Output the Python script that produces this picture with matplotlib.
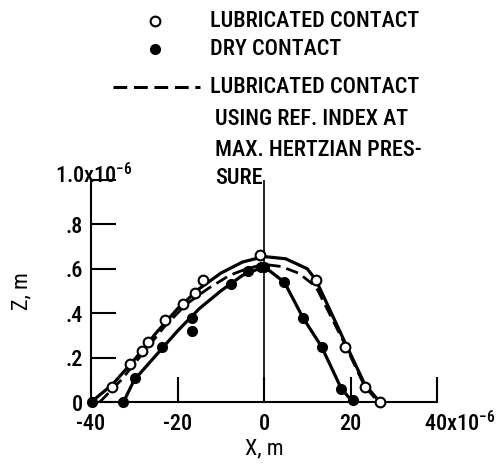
import matplotlib.pyplot as plt
from matplotlib.lines import Line2D

# x and z in units of 1e-6 m
lub_x = [-35.2, -30.9, -28.2, -26.9, -22.9, -18.7, -16.0, -14.1, -0.9, 12.1, 18.7, 23.3, 26.8]
lub_z = [0.07, 0.17, 0.23, 0.27, 0.37, 0.44, 0.49, 0.55, 0.66, 0.55, 0.25, 0.066, 0.0]

dry_x = [-39.7, -32.5, -29.8, -23.6, -16.6, -16.6, -7.7, -3.8, -0.7, 0.1, 4.7, 9.0, 13.3, 17.9, 20.6]
dry_z = [0.0, 0.0, 0.11, 0.25, 0.32, 0.38, 0.53, 0.59, 0.61, 0.61, 0.54, 0.38, 0.25, 0.06, 0.01]

lub_fit_x = [-40, -35, -30, -25, -20, -15, -10, -5, 0, 5, 10, 12, 18.7, 23.3, 26.8]
lub_fit_z = [0, 0.08, 0.19, 0.31, 0.42, 0.51, 0.58, 0.63, 0.655, 0.645, 0.6, 0.55, 0.27, 0.08, 0]

dry_fit_x = [-32.5, -30, -25, -20, -15, -10, -5, 0, 4.7, 9.0, 13.3, 17.9, 20.6]
dry_fit_z = [0, 0.1, 0.21, 0.32, 0.42, 0.5, 0.57, 0.61, 0.54, 0.38, 0.25, 0.06, 0]

ref_x = [-38, -33, -28, -23, -18, -13, -8, -4, 0, 4, 8, 12, 18.7, 23.3, 26.5]
ref_z = [0, 0.1, 0.22, 0.34, 0.44, 0.51, 0.57, 0.6, 0.62, 0.61, 0.58, 0.52, 0.26, 0.07, 0]

x_ticks = [-40, -20, 0, 20, 40]
x_labels = ['-40', '-20', '0', '20', '']
y_ticks = [0, 0.2, 0.4, 0.6, 0.8, 1.0]
y_labels = ['0', '.2', '.4', '.6', '.8', '']

plt.rcParams['font.family'] = ['Roboto Condensed', 'DejaVu Sans']
plt.rcParams['font.weight'] = 'medium'
plt.rcParams['mathtext.fontset'] = 'custom'
plt.rcParams['mathtext.rm'] = 'Roboto Condensed:medium'
plt.rcParams['mathtext.it'] = 'Roboto Condensed:medium'

dash = (0, (4.5, 2.2))

fig = plt.figure(figsize=(5, 4.72), dpi=100)
ax = fig.add_axes([0.182, 0.148, 0.692, 0.471])

ax.plot(lub_fit_x, lub_fit_z, color='black', lw=2.3, clip_on=False)
ax.plot(dry_fit_x, dry_fit_z, color='black', lw=2.3, clip_on=False)
ax.plot(ref_x, ref_z, color='black', lw=2.0, ls=dash, clip_on=False)
ax.plot(dry_x, dry_z, 'o', color='black', ms=7, clip_on=False, zorder=5)
ax.plot(lub_x, lub_z, 'o', mfc='white', mec='black', mew=1.5, ms=7, clip_on=False, zorder=5)
ax.axvline(0, color='black', lw=1.2)

ax.set_xlim(-40, 40)
ax.set_ylim(0, 1.0)
ax.set_xticks(x_ticks)
ax.set_xticklabels(x_labels)
ax.set_yticks(y_ticks)
ax.set_yticklabels(y_labels)
ax.tick_params(direction='in', length=18, width=1.5, labelsize=16)
ax.tick_params(axis='y', pad=6)
ax.tick_params(axis='x', pad=8)
for s in ['top', 'right']:
    ax.spines[s].set_visible(False)
for s in ['left', 'bottom']:
    ax.spines[s].set_linewidth(1.5)

ax.set_xlabel('X, m', fontsize=16, labelpad=2)
ax.set_ylabel('Z, m', fontsize=16, labelpad=24)
ax.text(-48.3, 1.02, '1.0x10$^{-6}$', fontsize=16, ha='left', va='center')
ax.text(37.0, -0.095, '40x10$^{-6}$', fontsize=16, ha='left', va='center')

# legend block above the plot
W, H = 500, 472
fig.add_artist(Line2D([155 / W], [1 - 21 / H], marker='o', mfc='white', mec='black',
                      mew=1.5, ms=7, transform=fig.transFigure))
fig.add_artist(Line2D([155 / W], [1 - 49 / H], marker='o', color='black', ms=7,
                      transform=fig.transFigure))
fig.add_artist(Line2D([113 / W, 200 / W], [1 - 87 / H, 1 - 87 / H], color='black',
                      lw=2.2, ls=dash, transform=fig.transFigure))
legend_lines = [
    (210, 21, 'LUBRICATED CONTACT'),
    (210, 49, 'DRY CONTACT'),
    (210, 87, 'LUBRICATED CONTACT'),
    (215, 119, 'USING REF. INDEX AT'),
    (215, 150, 'MAX. HERTZIAN PRES-'),
    (215, 178, 'SURE'),
]
for px, py, txt in legend_lines:
    fig.text(px / W, 1 - py / H, txt, fontsize=16, ha='left', va='center')

plt.savefig('out.png', dpi=100)
